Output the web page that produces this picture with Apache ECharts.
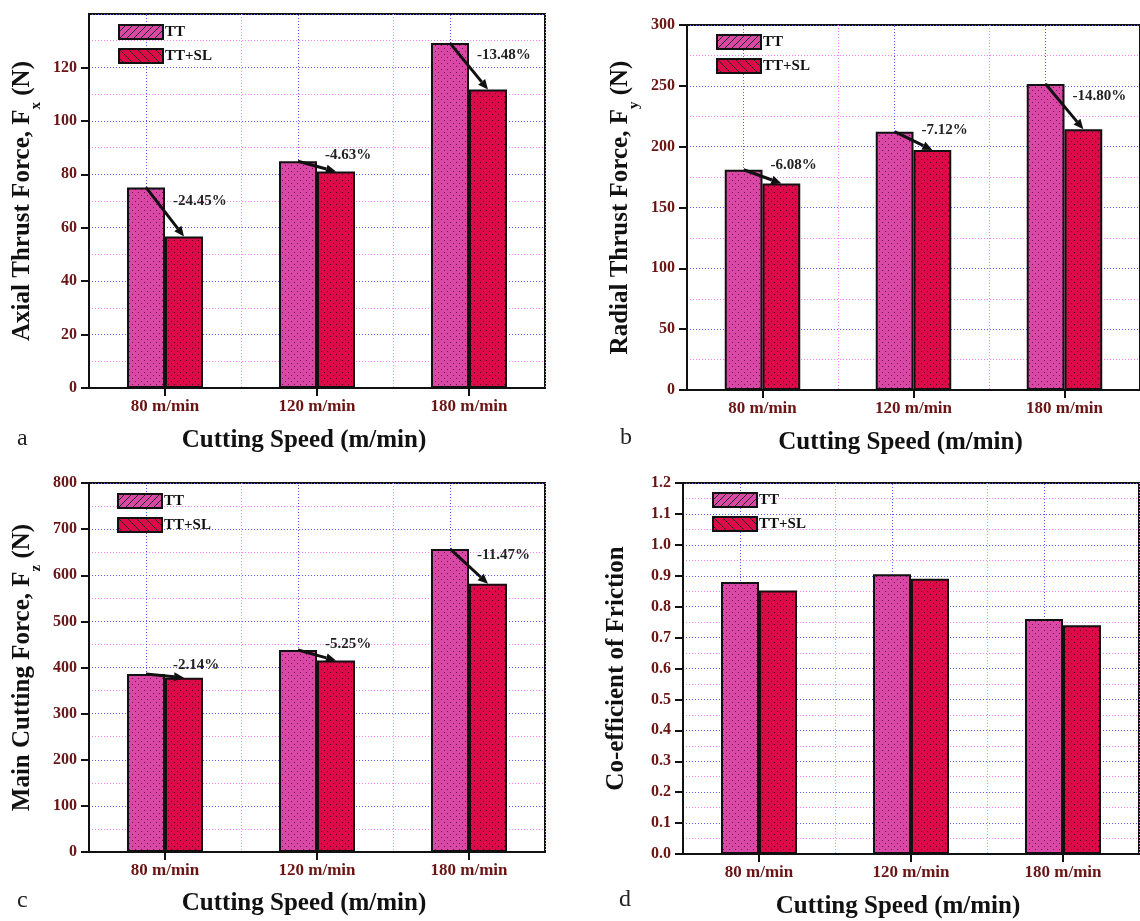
<!DOCTYPE html>
<html>
<head>
<meta charset="utf-8">
<script src="https://cdn.jsdelivr.net/npm/echarts@6/dist/echarts.min.js"></script>
<style>
html,body{margin:0;padding:0;background:#fff;}
#chart{width:1140px;height:921px;}
</style>
</head>
<body>
<div id="chart"></div>
<script>
// ---------- data ----------
const categories = ['80 m/min', '120 m/min', '180 m/min'];
const seriesNames = ['TT', 'TT+SL'];

const axialTT = [75.1, 84.9, 129.1];
const axialSL = [56.7, 81.0, 111.7];
const axialPct = ['-24.45%', '-4.63%', '-13.48%'];

const radialTT = [181.0, 212.3, 251.5];
const radialSL = [169.8, 197.2, 214.3];
const radialPct = ['-6.08%', '-7.12%', '-14.80%'];

const mainTT = [386, 438, 657];
const mainSL = [377.7, 415, 581.6];
const mainPct = ['-2.14%', '-5.25%', '-11.47%'];

const frictionTT = [0.88, 0.905, 0.76];
const frictionSL = [0.852, 0.89, 0.74];

const axialTicks = { min: 0, max: 140, interval: 20 };
const radialTicks = { min: 0, max: 300, interval: 50 };
const mainTicks = { min: 0, max: 800, interval: 100 };
const frictionTicks = { min: 0, max: 1.2, interval: 0.1 };

const xTitle = 'Cutting Speed (m/min)';

// ---------- styling ----------
const FONT = '"Liberation Serif", "Times New Roman", serif';
const TICK_COLOR = '#6a1414';
const COLOR_TT = '#d948a5';
const COLOR_SL = '#dc0a48';
const BLUE_GRID = '#5c5cff';
const PINK_GRID = '#ff80f4';

function dotPattern(base, dot) {
  const c = document.createElement('canvas');
  c.width = 6; c.height = 6;
  const g = c.getContext('2d');
  g.fillStyle = base; g.fillRect(0, 0, 6, 6);
  g.fillStyle = dot;
  g.fillRect(0, 0, 1, 1);
  g.fillRect(3, 3, 1, 1);
  return c;
}
function hatchPattern(base, s, forward) {
  const c = document.createElement('canvas');
  c.width = s; c.height = s;
  const g = c.getContext('2d');
  g.fillStyle = base; g.fillRect(0, 0, s, s);
  g.strokeStyle = '#222'; g.lineWidth = 1;
  g.beginPath();
  for (let k = -s; k <= s; k += s) {
    if (forward) { g.moveTo(k, s); g.lineTo(k + s, 0); }
    else { g.moveTo(k, 0); g.lineTo(k + s, s); }
  }
  g.stroke();
  return c;
}

const fillTT = { image: dotPattern(COLOR_TT, 'rgba(70,0,60,0.75)'), repeat: 'repeat' };
const fillSL = { image: dotPattern(COLOR_SL, 'rgba(50,0,10,0.75)'), repeat: 'repeat' };
const legTT = { image: hatchPattern(COLOR_TT, 7, true), repeat: 'repeat' };
const legSL = { image: hatchPattern(COLOR_SL, 9, false), repeat: 'repeat' };

const grids = [], xAxes = [], yAxes = [], series = [], legends = [], graphics = [];

function addPanel(p) {
  const idx = grids.length;
  grids.push({ left: p.left, top: p.top, width: 456, height: p.height, show: true,
    borderColor: '#111', borderWidth: 2, backgroundColor: '#fff', containLabel: false });
  xAxes.push({
    type: 'category', gridIndex: idx, data: categories,
    axisLine: { lineStyle: { color: '#111', width: 2 } },
    axisTick: { show: true, alignWithLabel: true, length: 8, lineStyle: { color: '#111', width: 2 } },
    axisLabel: { margin: 10, color: TICK_COLOR, fontFamily: FONT, fontWeight: 'bold', fontSize: 17 },
    splitLine: { show: true, interval: 0, lineStyle: { color: PINK_GRID, type: [1, 2], width: 1 } },
    name: xTitle, nameLocation: 'middle', nameGap: p.xGap,
    nameTextStyle: { fontFamily: FONT, fontWeight: 'bold', fontSize: 25, color: '#111', padding: [0, 26, 0, 0] }
  });
  yAxes.push({
    type: 'value', gridIndex: idx, min: p.ticks.min, max: p.ticks.max, interval: p.ticks.interval,
    axisLine: { show: true, lineStyle: { color: '#111', width: 2 } },
    axisTick: { show: true, length: 8, lineStyle: { color: '#111', width: 2 } },
    axisLabel: { margin: 12, color: TICK_COLOR, fontFamily: FONT, fontWeight: 'bold', fontSize: 16,
      showMaxLabel: p.showMax, formatter: p.fmt },
    splitLine: { show: true, lineStyle: { color: BLUE_GRID, type: [1, 2], width: 1 } },
    minorTick: { show: false, splitNumber: 2 },
    minorSplitLine: { show: true, lineStyle: { color: PINK_GRID, type: [1, 2], width: 1 } },
    name: p.yName, nameLocation: 'middle', nameGap: 45, nameRotate: 90,
    nameTextStyle: { fontFamily: FONT, fontWeight: 'bold', fontSize: 25, color: '#111', lineHeight: 42,
      rich: { s: { fontFamily: FONT, fontWeight: 'bold', fontSize: 15, lineHeight: 15, verticalAlign: 'bottom', color: '#111' } } }
  });
  series.push({
    type: 'bar', name: seriesNames[0], xAxisIndex: idx, yAxisIndex: idx, data: p.tt,
    barWidth: '25%', barGap: '0%',
    itemStyle: { color: fillTT, borderColor: '#111', borderWidth: 2 },
    markLine: { silent: true, symbol: 'none', z: 1, label: { show: false }, animation: false,
      lineStyle: { color: BLUE_GRID, type: [1, 2], width: 1 },
      data: categories.map(c => ({ xAxis: c })) },
    animation: false
  });
  series.push({
    type: 'bar', name: seriesNames[1], xAxisIndex: idx, yAxisIndex: idx, data: p.sl,
    barWidth: '25%', barGap: '0%',
    itemStyle: { color: fillSL, borderColor: '#111', borderWidth: 2 },
    animation: false
  });
  if (p.pct) {
    const labels = p.pct;
    series.push({
      type: 'custom', xAxisIndex: idx, yAxisIndex: idx, z: 10, silent: true, animation: false,
      encode: { x: 0, y: [1, 2] },
      data: categories.map((c, i) => [i, p.tt[i], p.sl[i]]),
      renderItem: function (params, api) {
        const i = params.dataIndex;
        const p1 = api.coord([api.value(0), api.value(1)]);
        const p2 = api.coord([api.value(0), api.value(2)]);
        const bw = api.size([1, 0])[0] * 0.25;
        const x1 = p1[0] - bw * 0.5, y1 = p1[1];
        const x2 = p2[0] + bw * 0.5, y2 = p2[1];
        const ang = Math.atan2(y2 - y1, x2 - x1);
        const L = 10, W = 4.5;
        const bx = x2 - L * Math.cos(ang), by = y2 - L * Math.sin(ang);
        const nx = -Math.sin(ang), ny = Math.cos(ang);
        return {
          type: 'group', children: [
            { type: 'line', shape: { x1: x1, y1: y1, x2: bx, y2: by }, style: { stroke: '#111', lineWidth: 3 } },
            { type: 'polygon', shape: { points: [[x2, y2], [bx + nx * W, by + ny * W], [bx - nx * W, by - ny * W]] }, style: { fill: '#111' } },
            { type: 'text', x: p1[0] + 8, y: (y1 + y2) / 2 - 11,
              style: { text: labels[i], font: 'bold 15px ' + FONT, fill: '#222', align: 'left', verticalAlign: 'middle' } }
          ]
        };
      }
    });
  }
  legends.push({
    left: p.legLeft, top: p.legTop, orient: 'vertical', padding: 0,
    itemWidth: 44, itemHeight: 14, itemGap: 8, selectedMode: false, icon: 'rect',
    textStyle: { fontFamily: FONT, fontWeight: 'bold', fontSize: 15, color: '#111', padding: [0, 0, 0, -3] },
    data: [
      { name: seriesNames[0], itemStyle: { color: legTT, borderColor: '#111', borderWidth: 2 } },
      { name: seriesNames[1], itemStyle: { color: legSL, borderColor: '#111', borderWidth: 2 } }
    ]
  });
  graphics.push({ type: 'text', left: p.letter[1], top: p.letter[2],
    style: { text: p.letter[0], font: '24px ' + FONT, fill: '#222' } });
}

addPanel({ left: 89, top: 14, height: 374, ticks: axialTicks, showMax: false, tt: axialTT, sl: axialSL, pct: axialPct,
  yName: 'Axial Thrust Force, F{s|x} (N)', xGap: 40, legLeft: 118, legTop: 24, letter: ['a', 17, 427] });
addPanel({ left: 687, top: 25, height: 365, ticks: radialTicks, showMax: true, tt: radialTT, sl: radialSL, pct: radialPct,
  yName: 'Radial Thrust Force, F{s|y} (N)', xGap: 40, legLeft: 716, legTop: 34, letter: ['b', 620, 426] });
addPanel({ left: 89, top: 483, height: 369, ticks: mainTicks, showMax: true, tt: mainTT, sl: mainSL, pct: mainPct,
  yName: 'Main Cutting Force, F{s|z} (N)', xGap: 39, legLeft: 117, legTop: 493, letter: ['c', 17, 889] });
addPanel({ left: 683, top: 483, height: 371, ticks: frictionTicks, showMax: true, tt: frictionTT, sl: frictionSL, pct: null,
  yName: 'Co-efficient of Friction', xGap: 40, legLeft: 712, legTop: 492, letter: ['d', 619, 888],
  fmt: v => v.toFixed(1) });

const chart = echarts.init(document.getElementById('chart'), null, { renderer: 'canvas' });
chart.setOption({
  backgroundColor: '#fff',
  animation: false,
  grid: grids, xAxis: xAxes, yAxis: yAxes, series: series, legend: legends, graphic: graphics
});
</script>
</body>
</html>
